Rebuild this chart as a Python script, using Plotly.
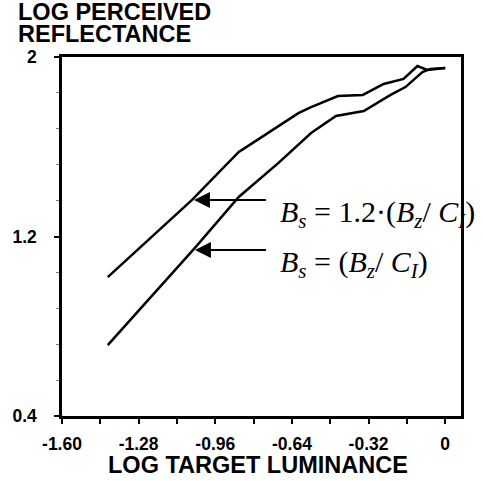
import plotly.graph_objects as go

# Data
upper_x = [-1.409, -1.057, -0.862, -0.837, -0.613, -0.560, -0.448, -0.344, -0.257, -0.174, -0.116, -0.075, 0.0]
upper_y = [1.019, 1.363, 1.577, 1.594, 1.750, 1.777, 1.826, 1.831, 1.880, 1.902, 1.960, 1.942, 1.951]

lower_x = [-1.409, -1.045, -0.862, -0.696, -0.560, -0.456, -0.340, -0.228, -0.166, -0.124, -0.095, -0.062, 0.0]
lower_y = [0.716, 1.149, 1.376, 1.528, 1.661, 1.737, 1.759, 1.831, 1.866, 1.906, 1.933, 1.947, 1.951]

x_tickvals = [-1.60, -1.28, -0.96, -0.64, -0.32, 0.0]
x_ticktext = ["-1.60", "-1.28", "-0.96", "-0.64", "-0.32", "0"]
y_tickvals = [0.4, 1.2, 2.0]
y_ticktext = ["0.4", "1.2", "2"]

y_title_lines = ["LOG PERCEIVED", "REFLECTANCE"]
x_title = "LOG TARGET LUMINANCE"

label_upper = "<i>B</i><sub><i>s</i></sub> = 1.2·(<i>B</i><sub><i>z</i></sub>/ <i>C</i><sub><i>I</i></sub>)"
label_lower = "<i>B</i><sub><i>s</i></sub> = (<i>B</i><sub><i>z</i></sub>/ <i>C</i><sub><i>I</i></sub>)"
# arrows: (tip_x, tip_y, tail_x)
arrow_upper = (-1.049, 1.363, -0.742)
arrow_lower = (-1.045, 1.140, -0.742)

SANS = "Liberation Sans, Arial, sans-serif"
SERIF = "Liberation Serif, Times New Roman, serif"

fig = go.Figure()
fig.add_trace(go.Scatter(x=upper_x, y=upper_y, mode="lines",
                         line=dict(color="black", width=2.5), showlegend=False))
fig.add_trace(go.Scatter(x=lower_x, y=lower_y, mode="lines",
                         line=dict(color="black", width=2.5), showlegend=False))

tickfont = dict(family=SANS, size=17.5, color="black", weight="bold")

fig.update_xaxes(range=[-1.6, 0.066], tickvals=x_tickvals, ticktext=x_ticktext,
                 ticks="outside", ticklen=5, tickwidth=2, tickcolor="black",
                 minor=dict(ticks="outside", ticklen=5, tickwidth=2, tickcolor="black",
                            dtick=0.16, tick0=-1.6, showgrid=False),
                 showgrid=False, zeroline=False, showline=True, mirror=True,
                 linewidth=2.5, linecolor="black", tickfont=tickfont,
                 ticklabelstandoff=5)
fig.update_yaxes(range=[0.4, 2.0], tickvals=y_tickvals, ticktext=y_ticktext,
                 ticks="outside", ticklen=5, tickwidth=2, tickcolor="black",
                 minor=dict(ticks="outside", ticklen=3, tickwidth=1, tickcolor="#777",
                            dtick=0.16, tick0=0.4, showgrid=False),
                 showgrid=False, zeroline=False, showline=True, mirror=True,
                 linewidth=2.5, linecolor="black", tickfont=tickfont,
                 ticklabelstandoff=14)

ann = []
# y title lines
ann.append(dict(text=f"<b>{y_title_lines[0]}</b>", xref="paper", yref="paper",
                x=-0.116, y=1.166, xanchor="left", yanchor="top", showarrow=False,
                font=dict(family=SANS, size=23.5, color="black")))
ann.append(dict(text=f"<b>{y_title_lines[1]}</b>", xref="paper", yref="paper",
                x=-0.116, y=1.105, xanchor="left", yanchor="top", showarrow=False,
                font=dict(family=SANS, size=23.5, color="black")))
# x title
ann.append(dict(text=f"<b>{x_title}</b>", xref="paper", yref="paper",
                x=0.491, y=-0.1365, xanchor="center", yanchor="middle", showarrow=False,
                font=dict(family=SANS, size=23.5, color="black")))
# arrows
for tip_x, tip_y, tail_x in (arrow_upper, arrow_lower):
    ann.append(dict(text="", x=tip_x, y=tip_y, xref="x", yref="y",
                    ax=tail_x, ay=tip_y, axref="x", ayref="y",
                    showarrow=True, arrowhead=2, arrowsize=1.6, arrowwidth=2,
                    arrowcolor="black", standoff=0, startstandoff=0))
# labels
ann.append(dict(text=label_upper, x=-0.700, y=1.300, xref="x", yref="y",
                xanchor="left", yanchor="middle", showarrow=False,
                font=dict(family=SERIF, size=30, color="black")))
ann.append(dict(text=label_lower, x=-0.700, y=1.077, xref="x", yref="y",
                xanchor="left", yanchor="middle", showarrow=False,
                font=dict(family=SERIF, size=30, color="black")))

fig.update_layout(width=483, height=481, margin=dict(l=59, r=22, t=57, b=65),
                  plot_bgcolor="white", paper_bgcolor="white", annotations=ann,
                  showlegend=False)

fig.write_html("out.html")
